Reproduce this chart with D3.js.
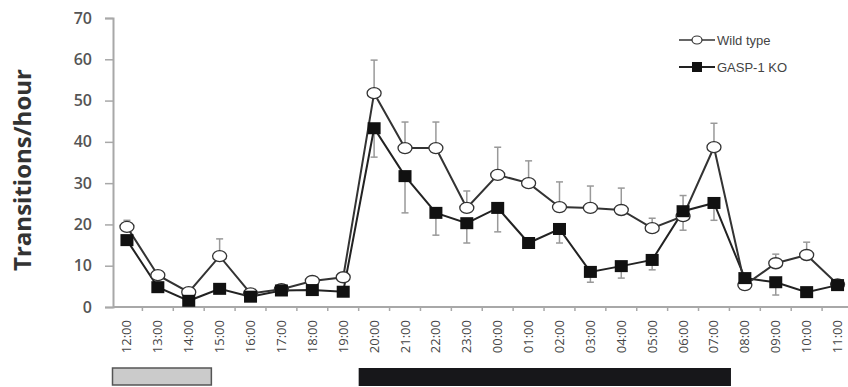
<!DOCTYPE html>
<html>
<head>
<meta charset="utf-8">
<script src="https://cdn.jsdelivr.net/npm/d3@7"></script>
<style>
  body { margin: 0; background: #fff; }
  svg { display: block; }
</style>
</head>
<body>
<div id="chart"></div>
<script>
// categories (hour of day)
var hours = ["12:00", "13:00", "14:00", "15:00", "16:00", "17:00", "18:00", "19:00",
    "20:00", "21:00", "22:00", "23:00", "00:00", "01:00", "02:00", "03:00",
    "04:00", "05:00", "06:00", "07:00", "08:00", "09:00", "10:00", "11:00"];

// wild type means and (upward) error
var wildType = [19.4, 7.7, 3.6, 12.3, 3.3, 4.3, 6.3, 7.2,
    51.8, 38.5, 38.5, 24, 32, 30, 24.2, 24,
    23.5, 19.1, 22, 38.7, 5.3, 10.6, 12.6, 5.5];
var wildTypeErr = [1.6, 0.8, 0.6, 4.2, 0.5, 0.5, 0.6, 0.7,
    8, 6.3, 6.3, 4.1, 6.7, 5.4, 6.1, 5.3,
    5.3, 2.4, 5, 5.8, 0.8, 2.2, 3.1, 0.6];

// GASP-1 KO means and (downward) error
var gaspKO = [16.2, 4.8, 1.5, 4.4, 2.5, 4.0, 4.1, 3.7,
    43.3, 31.7, 22.8, 20.3, 24, 15.5, 18.9, 8.5,
    9.9, 11.4, 23.2, 25.2, 7, 6, 3.6, 5.3];
var gaspKOErr = [1.2, 0.6, 0.4, 0.6, 0.4, 0.5, 0.5, 0.5,
    7, 8.9, 5.4, 4.8, 5.8, 1.2, 3.4, 2.5,
    2.9, 2.4, 4.6, 4.2, 0.8, 3.1, 0.6, 0.6];

var yTicks = [0, 10, 20, 30, 40, 50, 60, 70];

// light / dark phase bars, in category index units
var lightPhase = [0, 3.2];
var darkPhase = [8, 20.05];

var W = 848, H = 387;

var svg = d3.select("#chart")
    .append("svg")
    .attr("width", W)
    .attr("height", H);

var x = d3.scaleBand().domain(hours).range([111.5, 853]);
var xi = d3.scaleLinear().domain([0, hours.length]).range([111.5, 853]);
var y = d3.scaleLinear().domain([0, 70]).range([307, 18]);

function cx(d, i) { return x(hours[i]) + x.bandwidth() / 2; }

var axisColor = "#a8a8a8";

// y axis
var yAxis = svg.append("g")
    .attr("transform", "translate(113,0)")
    .call(d3.axisLeft(y).tickValues(yTicks).tickSize(8).tickPadding(13));
yAxis.select(".domain").attr("stroke", axisColor).attr("stroke-width", 2);
yAxis.selectAll(".tick line").attr("stroke", axisColor).attr("stroke-width", 1.5);
yAxis.selectAll("text")
    .attr("font-family", "'Open Sans', sans-serif")
    .attr("font-weight", 600)
    .attr("font-size", "16px")
    .attr("fill", "#555");

// x axis
var xAxis = svg.append("g")
    .attr("transform", "translate(0,307)");
xAxis.append("line")
    .attr("x1", 113).attr("x2", W)
    .attr("stroke", axisColor).attr("stroke-width", 2);
xAxis.selectAll(".xtick")
    .data(hours.slice(1))
    .enter().append("line")
    .attr("x1", function (d) { return x(d); })
    .attr("x2", function (d) { return x(d); })
    .attr("y1", 0).attr("y2", 4)
    .attr("stroke", axisColor).attr("stroke-width", 1.5);
xAxis.selectAll(".xlabel")
    .data(hours)
    .enter().append("text")
    .attr("transform", function (d) {
        return "translate(" + (x(d) + x.bandwidth() / 2 + 4.5) + ",13) rotate(-90)";
    })
    .attr("text-anchor", "end")
    .attr("font-family", "'Open Sans', sans-serif")
    .attr("font-size", "13px")
    .attr("fill", "#444")
    .text(function (d) { return d; });

// y title
svg.append("text")
    .attr("transform", "translate(31,170) rotate(-90)")
    .attr("text-anchor", "middle")
    .attr("font-family", "'Open Sans', sans-serif")
    .attr("font-weight", "bold")
    .attr("font-size", "24px")
    .attr("fill", "#333")
    .text("Transitions/hour");

// error bars
var errColor = "#999";
function drawErr(vals, errs, dir) {
    var g = svg.append("g");
    vals.forEach(function (v, i) {
        var px = cx(v, i), end = y(v + dir * errs[i]);
        g.append("line")
            .attr("x1", px).attr("x2", px)
            .attr("y1", y(v)).attr("y2", end)
            .attr("stroke", errColor).attr("stroke-width", 1.5);
        g.append("line")
            .attr("x1", px - 3.5).attr("x2", px + 3.5)
            .attr("y1", end).attr("y2", end)
            .attr("stroke", errColor).attr("stroke-width", 1.5);
    });
}
drawErr(gaspKO, gaspKOErr, -1);
drawErr(wildType, wildTypeErr, 1);

var line = d3.line()
    .x(function (d, i) { return cx(d, i); })
    .y(function (d) { return y(d); });

// KO series
svg.append("path")
    .datum(gaspKO)
    .attr("d", line)
    .attr("fill", "none")
    .attr("stroke", "#222")
    .attr("stroke-width", 2);

// wild type series
svg.append("path")
    .datum(wildType)
    .attr("d", line)
    .attr("fill", "none")
    .attr("stroke", "#333")
    .attr("stroke-width", 2);

svg.append("g").selectAll("ellipse")
    .data(wildType)
    .enter().append("ellipse")
    .attr("cx", cx)
    .attr("cy", function (d) { return y(d); })
    .attr("rx", 7).attr("ry", 5.5)
    .attr("fill", "#fff")
    .attr("stroke", "#333")
    .attr("stroke-width", 1.3);

svg.append("g").selectAll("rect")
    .data(gaspKO)
    .enter().append("rect")
    .attr("x", function (d, i) { return cx(d, i) - 6.5; })
    .attr("y", function (d) { return y(d) - 6; })
    .attr("width", 13).attr("height", 12)
    .attr("fill", "#111");

// legend
var legend = svg.append("g").attr("transform", "translate(679,0)");
legend.append("line")
    .attr("x1", 0).attr("x2", 36).attr("y1", 40).attr("y2", 40)
    .attr("stroke", "#333").attr("stroke-width", 1.5);
legend.append("ellipse")
    .attr("cx", 18).attr("cy", 40).attr("rx", 5).attr("ry", 4)
    .attr("fill", "#fff").attr("stroke", "#333").attr("stroke-width", 1.2);
legend.append("line")
    .attr("x1", 0).attr("x2", 36).attr("y1", 67).attr("y2", 67)
    .attr("stroke", "#222").attr("stroke-width", 2);
legend.append("rect")
    .attr("x", 13).attr("y", 62).attr("width", 10).attr("height", 10)
    .attr("fill", "#111");
legend.selectAll("text")
    .data(["Wild type", "GASP-1 KO"])
    .enter().append("text")
    .attr("x", 38)
    .attr("y", function (d, i) { return 40 + i * 27; })
    .attr("dy", "0.35em")
    .attr("font-family", "'Liberation Sans', Arial, sans-serif")
    .attr("font-size", "13px")
    .attr("fill", "#444")
    .text(function (d) { return d; });

// light / dark phase bars
svg.append("rect")
    .attr("x", xi(lightPhase[0]) + 1)
    .attr("y", 368)
    .attr("width", xi(lightPhase[1]) - xi(lightPhase[0]))
    .attr("height", 17)
    .attr("fill", "#cbcbcb")
    .attr("stroke", "#555")
    .attr("stroke-width", 1.5);
svg.append("rect")
    .attr("x", xi(darkPhase[0]))
    .attr("y", 368)
    .attr("width", xi(darkPhase[1]) - xi(darkPhase[0]))
    .attr("height", 18)
    .attr("fill", "#17171a");
</script>
</body>
</html>
